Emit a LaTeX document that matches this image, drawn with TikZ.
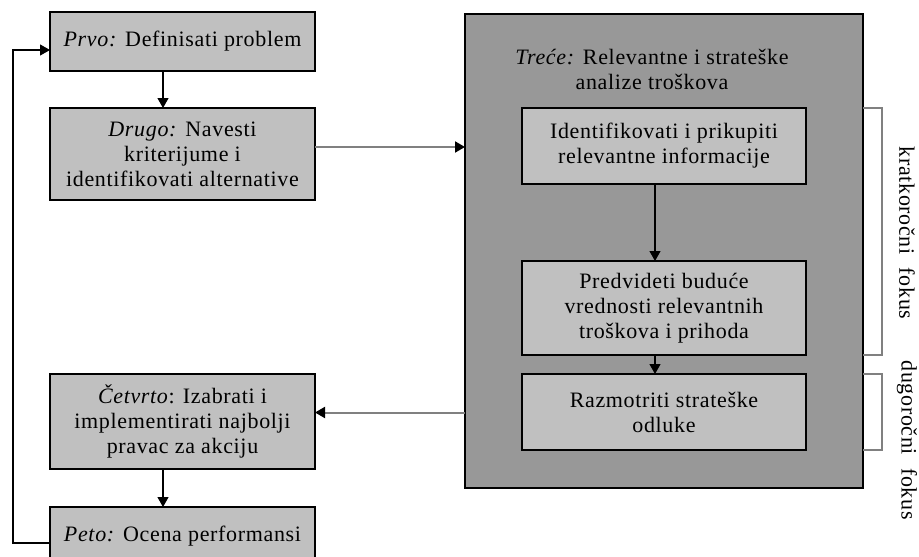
\documentclass[tikz,border=0pt]{standalone}
\usepackage{fontspec}
\setmainfont{Liberation Serif}[LetterSpace=3]
\usetikzlibrary{arrows.meta,calc}
\definecolor{boxfill}{RGB}{192,192,192}
\definecolor{bigfill}{RGB}{152,152,152}
\definecolor{linegray}{RGB}{128,128,128}
\begin{document}
\begin{tikzpicture}[x=1pt,y=-1pt,
  every node/.style={font=\fontsize{22}{25}\selectfont, inner sep=0pt, outer sep=0pt},
  stepbox/.style={draw=black, line width=1.2pt, fill=boxfill, align=center, minimum width=265pt},
  innerbox/.style={draw=black, line width=1.2pt, fill=boxfill, align=center, minimum width=284pt},
  bigbox/.style={draw=black, line width=1.2pt, fill=bigfill, minimum width=398pt, minimum height=474pt},
  arr/.style={line width=1.2pt, -{Triangle[length=10pt,width=11pt]}},
  grayarr/.style={draw=linegray, line width=2pt, -{Triangle[length=10pt,width=11pt,color=black]}},
  brk/.style={draw=linegray, line width=1.2pt},
  sidelabel/.style={rotate=-90, anchor=center}
]
\clip (0,0) rectangle (919,557);
\fill[white] (0,0) rectangle (919,557);

% left column
\node[stepbox, minimum height=59pt] (Prvo) at (182.5,41.5) {\textit{Prvo:} Definisati problem};
\node[stepbox, minimum height=92pt] (Drugo) at (182.5,154) {\textit{Drugo:} Navesti\\kriterijume i\\identifikovati alternative};
\node[stepbox, minimum height=95pt] (Cetvrto) at (182.5,421.5) {\textit{Četvrto}: Izabrati i\\implementirati najbolji\\pravac za akciju};
\node[stepbox, minimum height=70pt, anchor=north] (Peto) at (182.5,507) {};
\node at (182.5,536) (PetoText) {\textit{Peto:} Ocena performansi};

% big box
\node[bigbox] (Big) at (664,251) {};
\node[align=center] (Trece) at (652,69) {\textit{Treće:} Relevantne i strateške\\analize troškova};
\node[innerbox, minimum height=76pt] (In1) at (664,146) {Identifikovati i prikupiti\\relevantne informacije};
\node[innerbox, minimum height=94pt] (In2) at (664,308) {Predvideti buduće\\vrednosti relevantnih\\troškova i prihoda};
\node[innerbox, minimum height=76pt] (In3) at (664,412) {Razmotriti strateške\\odluke};

\coordinate (ax) at (163,0);
\coordinate (bx) at (655,0);
\coordinate (loopx) at (13,0);
\coordinate (brx) at (882,0);

% connectors
\draw[arr] (Prvo.south -| ax) -- (Drugo.north -| ax);
\draw[arr] (Cetvrto.south -| ax) -- (Peto.north -| ax);
\draw[arr] (In1.south -| bx) -- (In2.north -| bx);
\draw[arr] (In2.south -| bx) -- (In3.north -| bx);
\draw[grayarr] ([yshift=7pt]Drugo.east) -- ([yshift=7pt]Drugo.east -| Big.west);
\draw[grayarr] ([yshift=-0.5pt]In3.west -| Big.west) -- ([yshift=-0.5pt]In3.west -| Cetvrto.east);
\coordinate (loopA) at ($(Peto.north west)+(0,36)$);
\coordinate (loopB) at ($(Prvo.west)+(0,8.5)$);
\draw[arr] (loopA) -- (loopA -| loopx) -- (loopB -| loopx) -- (loopB);

% brackets
\draw[brk] (Big.east |- In1.north) -- (brx |- In1.north) -- (brx |- In2.south) -- (Big.east |- In2.south);
\draw[brk] (Big.east |- In3.north) -- (brx |- In3.north) -- (brx |- In3.south) -- (Big.east |- In3.south);
\node[sidelabel] (kratko) at (907,233) {kratkoročni\hspace{0.6em}fokus};
\node[sidelabel] (dugo) at (907,440) {dugoročni\hspace{0.6em}fokus};
\end{tikzpicture}
\end{document}
